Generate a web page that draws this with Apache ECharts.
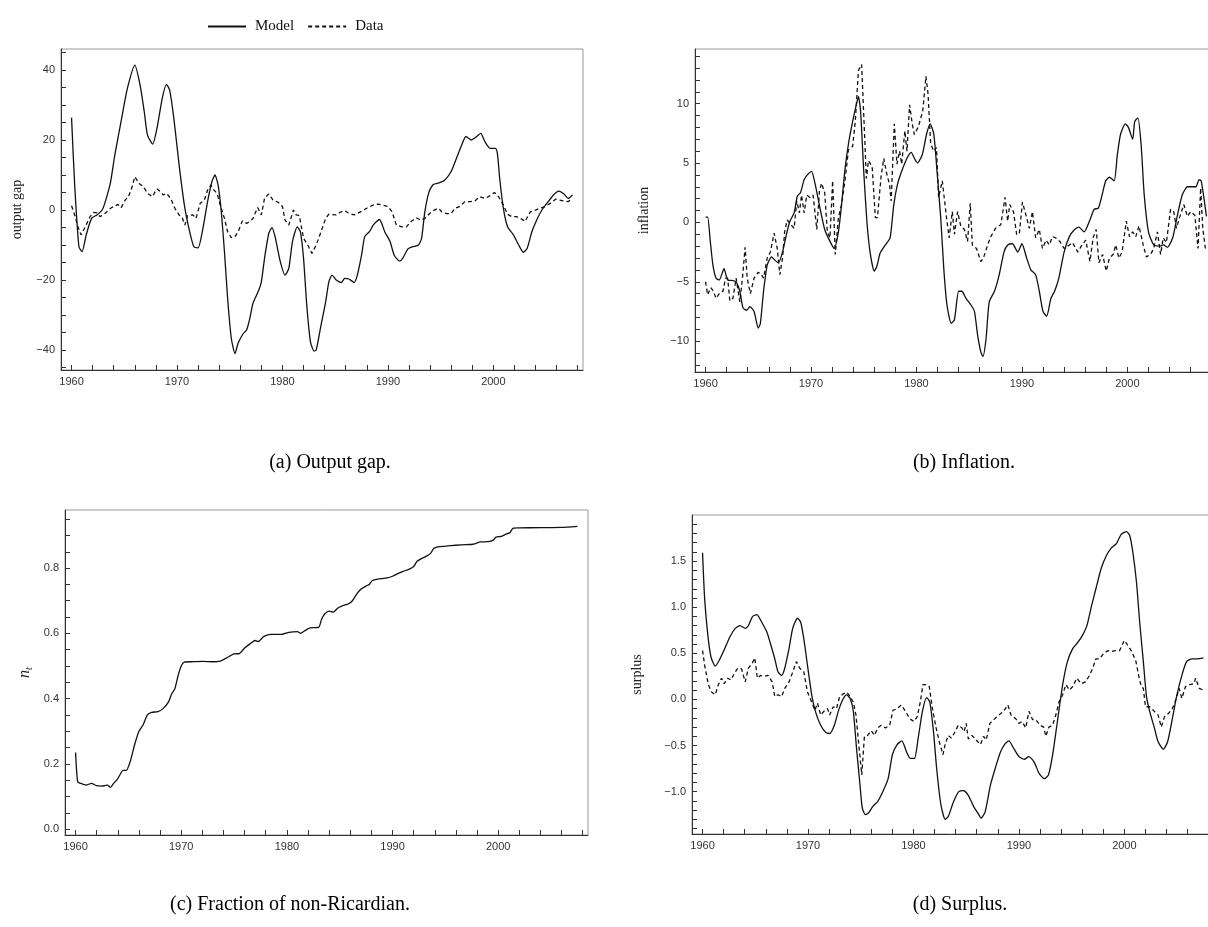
<!DOCTYPE html>
<html><head><meta charset="utf-8">
<script src="https://cdn.jsdelivr.net/npm/echarts@6/dist/echarts.min.js"></script>
<style>html,body{margin:0;padding:0;background:#fff}#c{width:1208px;height:927px}</style>
</head><body><div id="c"></div>
<script>
// ---------- tick arrays ----------
const xLabels = [1960, 1970, 1980, 1990, 2000];
const xTicks = [1960,1962,1964,1966,1968,1970,1972,1974,1976,1978,1980,1982,1984,1986,1988,1990,1992,1994,1996,1998,2000,2002,2004,2006,2008];
const gapLabels = [-40, -20, 0, 20, 40];
const gapTicks = [-45,-40,-35,-30,-25,-20,-15,-10,-5,0,5,10,15,20,25,30,35,40,45];
const infLabels = [-10, -5, 0, 5, 10];
const infTicks = [-12,-11,-10,-9,-8,-7,-6,-5,-4,-3,-2,-1,0,1,2,3,4,5,6,7,8,9,10,11,12,13,14];
const ntLabels = [0, 0.2, 0.4, 0.6, 0.8];
const ntTicks = [0,0.05,0.1,0.15,0.2,0.25,0.3,0.35,0.4,0.45,0.5,0.55,0.6,0.65,0.7,0.75,0.8,0.85,0.9,0.95];
const surLabels = [-1.0, -0.5, 0.0, 0.5, 1.0, 1.5];
const surTicks = [-1.4,-1.3,-1.2,-1.1,-1.0,-0.9,-0.8,-0.7,-0.6,-0.5,-0.4,-0.3,-0.2,-0.1,0,0.1,0.2,0.3,0.4,0.5,0.6,0.7,0.8,0.9,1.0,1.1,1.2,1.3,1.4,1.5,1.6,1.7,1.8,1.9];

// ---------- (a) output gap ----------
const gapModel = [[1960.0,26.4],[1960.3,7],[1960.7,-10.5],[1961.0,-11.9],[1961.4,-7],[1961.9,-2.4],[1962.4,-1.4],[1962.9,0],[1963.2,2.4],[1963.7,8],[1964.1,15.7],[1964.8,27],[1965.3,34.8],[1966.0,41.4],[1966.5,35.7],[1966.9,28],[1967.2,21.4],[1967.7,18.8],[1968.1,23.3],[1968.6,31.9],[1969.0,35.9],[1969.3,34.3],[1969.7,26.2],[1970.2,12.9],[1970.7,1.4],[1971.2,-6.2],[1971.6,-10.5],[1972.0,-10.8],[1972.4,-6.2],[1972.9,2.4],[1973.3,8],[1973.6,10],[1973.9,7.1],[1974.2,-0.5],[1974.5,-11.9],[1974.8,-25.2],[1975.15,-36.7],[1975.5,-41],[1975.8,-38],[1976.3,-35.2],[1976.6,-34.3],[1976.9,-31],[1977.2,-26.7],[1977.7,-23.3],[1978.0,-20.5],[1978.3,-13.8],[1978.7,-6.7],[1979.0,-5],[1979.3,-7.6],[1979.8,-14.8],[1980.25,-18.6],[1980.6,-16.7],[1980.95,-9],[1981.4,-4.8],[1981.7,-6.2],[1982.0,-13.8],[1982.3,-27],[1982.65,-37.6],[1983.0,-40.3],[1983.2,-40],[1983.6,-33.8],[1984.1,-26.2],[1984.4,-20.5],[1984.7,-18.6],[1985.1,-20],[1985.6,-20.7],[1985.9,-19.5],[1986.3,-19.7],[1986.8,-20.7],[1987.1,-18.6],[1987.5,-12.9],[1987.8,-7.6],[1988.25,-6.2],[1988.6,-4.3],[1989.2,-2.7],[1989.7,-6.2],[1990.2,-9],[1990.6,-12.9],[1991.1,-14.6],[1991.4,-13.8],[1991.9,-11.1],[1992.3,-10.5],[1992.9,-10],[1993.2,-8],[1993.5,-0.5],[1993.9,5.2],[1994.3,7.3],[1994.9,7.8],[1995.4,8.6],[1996.0,11],[1996.5,14.8],[1997.0,18.6],[1997.4,21],[1997.9,20],[1998.3,20.7],[1998.8,21.9],[1999.2,19.5],[1999.7,17.6],[2000.2,17.6],[2000.4,15.7],[2000.6,9],[2000.95,0.5],[2001.35,-4.8],[2001.9,-7.1],[2002.4,-10],[2002.85,-12.1],[2003.2,-11],[2003.65,-6.2],[2004.1,-2.9],[2004.6,0],[2005.2,2.4],[2005.7,4.3],[2006.2,5.4],[2006.7,4.6],[2007.1,3.3],[2007.5,4.3]];
const gapData = [[1960.0,1.2],[1960.3,-1.4],[1960.6,-4.8],[1960.9,-7.1],[1961.3,-4.8],[1961.75,-1.9],[1962.1,-0.7],[1962.4,-0.8],[1962.7,-1.9],[1963.0,-1.4],[1963.35,-0.5],[1963.7,0.5],[1964.0,1],[1964.4,1.6],[1964.7,0.7],[1965.1,2.9],[1965.4,3.8],[1965.75,6.7],[1966.0,9.5],[1966.4,7.6],[1966.8,6.7],[1967.2,4.8],[1967.65,3.8],[1968.1,6],[1968.45,5.2],[1968.7,4.3],[1969.0,4.8],[1969.4,3.3],[1969.8,0.5],[1970.2,-1.4],[1970.5,-2.2],[1970.75,-4.3],[1971.0,-1.6],[1971.5,-1.4],[1971.8,-2.4],[1972.2,1.9],[1972.6,2.9],[1972.9,5.7],[1973.2,7.1],[1973.5,5.7],[1973.8,4.8],[1974.1,1.4],[1974.5,-2.4],[1974.8,-6.2],[1975.15,-7.9],[1975.5,-7.6],[1975.8,-6.2],[1976.2,-3.1],[1976.6,-3.8],[1976.9,-3.3],[1977.2,-2.4],[1977.65,0.7],[1978.0,-1.4],[1978.3,3.3],[1978.7,4.6],[1979.1,2.9],[1979.6,2.2],[1980.0,1],[1980.25,-2.9],[1980.6,-4.3],[1981.05,0],[1981.3,-1.4],[1981.6,-1.6],[1982.0,-8.1],[1982.4,-10],[1982.8,-12.4],[1983.2,-10],[1983.6,-6.7],[1984.1,-2.4],[1984.4,-1.2],[1985.1,-1.4],[1985.55,-0.5],[1985.9,-0.2],[1986.35,-1],[1986.8,-1.4],[1987.2,-0.8],[1987.6,-0.2],[1988.1,0.7],[1988.6,1.4],[1989.05,1.7],[1989.5,1.4],[1990.0,1],[1990.4,-0.5],[1990.8,-4.3],[1991.3,-4.8],[1991.75,-4.8],[1992.2,-3.3],[1992.7,-2.2],[1993.1,-2.9],[1993.5,-2.4],[1993.95,-1],[1994.4,0],[1994.8,0.5],[1995.1,-0.5],[1995.55,-1],[1996.0,-1],[1996.35,0.5],[1996.8,1],[1997.3,2.4],[1997.8,2.4],[1998.25,2.6],[1998.7,3.8],[1999.2,3.3],[1999.7,4.1],[2000.1,5],[2000.5,3.8],[2000.95,1.4],[2001.35,-1.2],[2001.75,-1.9],[2002.2,-1.9],[2002.7,-2.6],[2003.0,-3.3],[2003.5,-0.5],[2004.0,0],[2004.4,0.5],[2004.9,1],[2005.4,1.9],[2005.9,3.1],[2006.2,2.9],[2006.7,2.6],[2007.1,2.4],[2007.5,3.3]];

// ---------- (b) inflation ----------
const infModel = [[1960.0,0.45],[1960.2,0.45],[1960.45,-1.6],[1960.7,-3.6],[1961.0,-4.7],[1961.3,-4.85],[1961.75,-3.9],[1962.1,-4.85],[1962.6,-4.9],[1962.9,-5.0],[1963.25,-5.8],[1963.55,-7.2],[1963.9,-7.4],[1964.2,-7.1],[1964.6,-7.5],[1965.0,-8.9],[1965.2,-8.5],[1965.5,-5.8],[1965.85,-3.6],[1966.25,-2.9],[1966.6,-3.2],[1966.9,-3.4],[1967.3,-2.5],[1967.7,-0.9],[1968.0,0.1],[1968.4,0.8],[1968.7,2.2],[1969.0,2.5],[1969.35,3.6],[1969.65,4.0],[1970.05,4.3],[1970.4,3.2],[1970.85,1.2],[1971.3,-0.6],[1971.8,-1.6],[1972.2,-2.2],[1972.6,-0.8],[1972.9,1.5],[1973.2,4.3],[1973.55,6.6],[1973.95,8.5],[1974.35,10.1],[1974.5,10.6],[1974.7,9.4],[1975.0,4.3],[1975.3,0.1],[1975.6,-2.5],[1976.0,-4.1],[1976.25,-3.7],[1976.55,-2.6],[1977.05,-1.9],[1977.5,-1.3],[1977.85,1.5],[1978.2,3.2],[1978.6,4.3],[1979.1,5.4],[1979.5,5.9],[1979.8,5.4],[1980.1,5.0],[1980.55,5.7],[1980.95,7.4],[1981.3,8.3],[1981.65,7.4],[1981.95,4.3],[1982.3,0.4],[1982.6,-4.0],[1982.9,-7.0],[1983.3,-8.5],[1983.6,-8.2],[1984.0,-5.8],[1984.3,-5.8],[1984.7,-6.4],[1985.2,-7.0],[1985.5,-7.5],[1985.8,-9.5],[1986.1,-10.9],[1986.3,-11.3],[1986.6,-9.8],[1986.9,-6.7],[1987.4,-5.8],[1987.85,-4.4],[1988.3,-2.5],[1988.65,-1.9],[1989.1,-1.8],[1989.6,-2.5],[1990.0,-1.8],[1990.45,-3.0],[1990.85,-4.0],[1991.3,-4.4],[1991.65,-5.8],[1992.0,-7.5],[1992.35,-7.9],[1992.75,-6.4],[1993.1,-5.8],[1993.5,-4.7],[1994.0,-2.5],[1994.5,-1.2],[1995.0,-0.6],[1995.4,-0.4],[1995.9,-0.8],[1996.4,0.1],[1996.85,1.1],[1997.25,1.2],[1997.6,2.3],[1997.95,3.5],[1998.3,3.8],[1998.75,3.5],[1999.05,5.7],[1999.35,7.4],[1999.8,8.3],[2000.1,8.0],[2000.5,7.0],[2000.7,8.5],[2001.0,8.8],[2001.3,6.6],[2001.6,2.3],[2002.0,-0.8],[2002.5,-1.9],[2003.0,-2.0],[2003.4,-1.9],[2003.8,-2.1],[2004.3,-1.3],[2004.7,0.4],[2005.2,2.3],[2005.7,3.0],[2006.15,3.0],[2006.5,3.0],[2006.8,3.6],[2007.0,3.5],[2007.3,1.8],[2007.5,0.5]];
const infData = [[1960.0,-5.0],[1960.2,-6.1],[1960.5,-5.5],[1960.75,-5.8],[1961.0,-6.4],[1961.3,-6.0],[1961.65,-5.8],[1961.9,-4.7],[1962.1,-4.7],[1962.3,-6.6],[1962.6,-6.4],[1962.9,-4.7],[1963.25,-6.7],[1963.5,-4.7],[1963.75,-2.1],[1963.95,-4.7],[1964.25,-6.0],[1964.6,-4.7],[1965.0,-4.2],[1965.3,-4.4],[1965.5,-4.7],[1965.85,-3.0],[1966.15,-2.5],[1966.5,-0.9],[1966.8,-2.2],[1967.05,-4.4],[1967.3,-3.0],[1967.5,-0.8],[1967.75,0.2],[1968.0,-0.1],[1968.4,-0.5],[1968.65,1.8],[1968.9,0.8],[1969.1,2.3],[1969.35,0.8],[1969.6,2.3],[1969.9,2.1],[1970.2,2.3],[1970.55,-0.6],[1970.8,2.6],[1971.0,3.3],[1971.3,2.5],[1971.55,-0.8],[1971.8,-1.3],[1972.05,3.5],[1972.3,-2.7],[1972.6,0.4],[1972.9,1.5],[1973.25,3.7],[1973.55,6.1],[1973.95,6.4],[1974.2,8.5],[1974.5,12.8],[1974.8,13.3],[1975.05,8.0],[1975.25,3.7],[1975.45,5.2],[1975.8,4.7],[1976.1,0.4],[1976.3,0.4],[1976.65,3.9],[1976.9,5.4],[1977.15,4.2],[1977.45,3.2],[1977.6,1.8],[1977.9,8.3],[1978.15,4.9],[1978.4,6.0],[1978.6,4.9],[1978.9,7.7],[1979.1,6.0],[1979.35,9.9],[1979.6,8.3],[1979.8,7.4],[1980.2,8.1],[1980.6,9.4],[1980.9,12.3],[1981.1,10.8],[1981.35,6.6],[1981.65,6.0],[1981.9,6.3],[1982.1,2.1],[1982.45,3.5],[1982.85,0.4],[1983.1,-1.3],[1983.4,0.9],[1983.6,-1.0],[1983.9,0.9],[1984.2,-0.3],[1984.55,-0.6],[1984.85,-1.6],[1985.1,1.6],[1985.3,-1.9],[1985.7,-2.2],[1986.1,-3.3],[1986.35,-3.0],[1986.75,-1.9],[1987.05,-1.2],[1987.5,-0.5],[1988.0,-0.2],[1988.4,2.1],[1988.65,0.1],[1988.85,1.5],[1989.2,0.9],[1989.5,-1.0],[1989.75,-1.0],[1990.05,1.7],[1990.45,0.4],[1990.7,-0.5],[1991.0,0.9],[1991.3,-1.3],[1991.65,-0.6],[1991.95,-2.2],[1992.3,-1.5],[1992.6,-1.9],[1992.9,-1.2],[1993.2,-1.3],[1993.6,-1.6],[1994.0,-2.2],[1994.5,-1.9],[1994.8,-1.7],[1995.3,-2.5],[1995.7,-1.9],[1996.05,-1.5],[1996.45,-3.3],[1996.75,-1.3],[1997.05,-0.6],[1997.3,-3.4],[1997.65,-2.7],[1998.0,-4.1],[1998.3,-3.0],[1998.65,-2.7],[1998.9,-1.9],[1999.2,-3.0],[1999.5,-2.5],[1999.9,0.1],[2000.2,-1.2],[2000.5,-0.8],[2000.8,-1.2],[2001.1,-0.3],[2001.5,-1.9],[2001.8,-2.9],[2002.2,-2.7],[2002.5,-2.2],[2002.85,-0.8],[2003.15,-2.7],[2003.4,-1.3],[2003.7,-1.7],[2004.1,1.1],[2004.4,0.9],[2004.65,-0.5],[2004.95,0.4],[2005.35,1.5],[2005.7,0.5],[2006.0,0.9],[2006.4,0.6],[2006.7,-2.2],[2006.95,2.9],[2007.15,-0.5],[2007.4,-2.2]];

// ---------- (c) fraction of non-Ricardian ----------
const ntModel = [[1960.0,0.235],[1960.2,0.145],[1960.5,0.14],[1961.0,0.135],[1961.5,0.14],[1962.0,0.133],[1962.5,0.132],[1963.0,0.135],[1963.3,0.128],[1963.6,0.14],[1964.0,0.155],[1964.5,0.18],[1964.8,0.18],[1965.2,0.21],[1965.6,0.26],[1966.0,0.30],[1966.4,0.32],[1966.8,0.35],[1967.2,0.358],[1967.8,0.36],[1968.3,0.37],[1968.8,0.39],[1969.1,0.415],[1969.4,0.43],[1969.7,0.47],[1970.0,0.50],[1970.3,0.512],[1971.0,0.513],[1972.0,0.514],[1973.0,0.513],[1973.7,0.515],[1974.3,0.525],[1975.0,0.537],[1975.5,0.538],[1976.0,0.555],[1976.6,0.57],[1977.0,0.578],[1977.3,0.575],[1977.8,0.59],[1978.5,0.597],[1979.5,0.597],[1980.2,0.603],[1981.0,0.605],[1981.3,0.60],[1981.8,0.61],[1982.2,0.617],[1983.0,0.618],[1983.3,0.645],[1983.6,0.66],[1984.0,0.668],[1984.4,0.665],[1984.8,0.677],[1985.3,0.685],[1985.8,0.69],[1986.2,0.70],[1986.6,0.72],[1987.0,0.735],[1987.5,0.745],[1987.8,0.75],[1988.1,0.762],[1988.6,0.766],[1989.5,0.77],[1990.0,0.775],[1990.5,0.783],[1991.0,0.79],[1991.6,0.797],[1992.0,0.805],[1992.3,0.82],[1992.8,0.83],[1993.3,0.838],[1993.6,0.845],[1993.9,0.86],[1994.3,0.865],[1995.0,0.867],[1996.0,0.87],[1997.0,0.872],[1997.6,0.873],[1998.0,0.877],[1998.3,0.88],[1999.0,0.881],[1999.5,0.885],[1999.8,0.895],[2000.3,0.897],[2000.8,0.905],[2001.1,0.908],[2001.4,0.922],[2002.0,0.923],[2004.0,0.924],[2006.0,0.925],[2007.5,0.928]];

// ---------- (d) surplus ----------
const surModel = [[1960.0,1.59],[1960.2,1.09],[1960.5,0.70],[1960.8,0.46],[1961.2,0.36],[1961.65,0.44],[1962.1,0.55],[1962.6,0.68],[1963.1,0.77],[1963.55,0.80],[1964.05,0.77],[1964.35,0.80],[1964.75,0.90],[1965.15,0.92],[1965.6,0.84],[1966.1,0.73],[1966.4,0.62],[1966.85,0.44],[1967.15,0.30],[1967.5,0.26],[1967.8,0.34],[1968.2,0.55],[1968.55,0.77],[1969.0,0.88],[1969.3,0.84],[1969.6,0.66],[1969.95,0.37],[1970.35,0.05],[1970.7,-0.13],[1971.2,-0.28],[1971.7,-0.36],[1972.05,-0.37],[1972.5,-0.28],[1972.95,-0.10],[1973.35,0.01],[1973.65,0.05],[1974.0,0.01],[1974.3,-0.13],[1974.6,-0.53],[1974.9,-0.89],[1975.15,-1.18],[1975.45,-1.25],[1975.75,-1.23],[1976.15,-1.16],[1976.6,-1.11],[1977.1,-1.0],[1977.6,-0.86],[1978.0,-0.60],[1978.45,-0.49],[1978.9,-0.45],[1979.35,-0.57],[1979.7,-0.64],[1980.1,-0.64],[1980.45,-0.42],[1980.85,-0.13],[1981.25,0.02],[1981.55,-0.03],[1981.9,-0.35],[1982.2,-0.75],[1982.6,-1.14],[1983.0,-1.30],[1983.3,-1.27],[1983.8,-1.11],[1984.3,-1.0],[1984.75,-0.99],[1985.2,-1.04],[1985.7,-1.16],[1986.2,-1.25],[1986.4,-1.29],[1986.8,-1.22],[1987.3,-0.93],[1987.75,-0.75],[1988.25,-0.57],[1988.7,-0.48],[1989.05,-0.45],[1989.5,-0.53],[1990.0,-0.62],[1990.5,-0.65],[1990.95,-0.62],[1991.45,-0.68],[1991.9,-0.80],[1992.4,-0.86],[1992.8,-0.82],[1993.2,-0.60],[1993.65,-0.24],[1994.15,0.16],[1994.6,0.41],[1995.1,0.55],[1995.6,0.62],[1996.05,0.70],[1996.45,0.80],[1996.9,1.02],[1997.3,1.20],[1997.8,1.42],[1998.3,1.56],[1998.75,1.64],[1999.25,1.69],[1999.7,1.79],[2000.2,1.82],[2000.5,1.78],[2000.8,1.60],[2001.15,1.27],[2001.45,0.84],[2001.8,0.41],[2002.1,0.03],[2002.4,-0.13],[2002.85,-0.31],[2003.2,-0.46],[2003.7,-0.54],[2004.1,-0.46],[2004.5,-0.24],[2004.95,0.03],[2005.45,0.26],[2005.9,0.41],[2006.4,0.44],[2006.9,0.44],[2007.5,0.45]];
const surData = [[1960.0,0.53],[1960.2,0.37],[1960.55,0.16],[1960.85,0.08],[1961.2,0.05],[1961.5,0.16],[1961.8,0.23],[1962.05,0.17],[1962.4,0.23],[1962.7,0.21],[1963.0,0.28],[1963.35,0.34],[1963.7,0.33],[1964.05,0.19],[1964.35,0.34],[1964.7,0.39],[1964.95,0.45],[1965.2,0.23],[1965.5,0.26],[1965.8,0.25],[1966.2,0.26],[1966.6,0.19],[1966.85,0.03],[1967.15,0.05],[1967.5,0.03],[1967.8,0.12],[1968.2,0.19],[1968.5,0.28],[1968.9,0.41],[1969.2,0.34],[1969.6,0.30],[1969.95,0.08],[1970.35,-0.03],[1970.65,-0.12],[1970.9,-0.04],[1971.2,-0.17],[1971.5,-0.13],[1971.85,-0.10],[1972.05,-0.17],[1972.4,-0.08],[1972.7,-0.10],[1973.0,0.03],[1973.35,0.06],[1973.65,0.08],[1974.0,0.03],[1974.3,-0.03],[1974.55,-0.17],[1974.85,-0.53],[1975.1,-0.82],[1975.35,-0.40],[1975.65,-0.39],[1976.0,-0.34],[1976.3,-0.39],[1976.6,-0.31],[1976.95,-0.28],[1977.35,-0.31],[1977.75,-0.28],[1978.05,-0.12],[1978.45,-0.10],[1978.85,-0.06],[1979.25,-0.13],[1979.65,-0.21],[1980.05,-0.24],[1980.35,-0.19],[1980.65,-0.03],[1980.9,0.16],[1981.25,0.16],[1981.5,0.14],[1981.8,-0.10],[1982.15,-0.31],[1982.45,-0.46],[1982.8,-0.60],[1983.0,-0.49],[1983.3,-0.39],[1983.6,-0.42],[1983.95,-0.35],[1984.25,-0.28],[1984.6,-0.31],[1984.8,-0.35],[1985.0,-0.26],[1985.2,-0.43],[1985.55,-0.39],[1985.95,-0.44],[1986.35,-0.49],[1986.65,-0.40],[1986.9,-0.44],[1987.25,-0.26],[1987.6,-0.22],[1988.1,-0.17],[1988.55,-0.13],[1988.95,-0.06],[1989.25,-0.17],[1989.7,-0.21],[1990.0,-0.26],[1990.3,-0.24],[1990.65,-0.31],[1990.95,-0.13],[1991.3,-0.22],[1991.6,-0.22],[1992.0,-0.28],[1992.35,-0.30],[1992.55,-0.40],[1992.85,-0.30],[1993.2,-0.28],[1993.5,-0.17],[1993.8,-0.03],[1994.15,0.05],[1994.45,0.16],[1994.8,0.10],[1995.1,0.14],[1995.5,0.23],[1995.9,0.17],[1996.3,0.19],[1996.7,0.26],[1997.0,0.34],[1997.3,0.44],[1997.65,0.44],[1998.05,0.50],[1998.45,0.53],[1998.75,0.52],[1999.15,0.53],[1999.55,0.53],[2000.0,0.64],[2000.3,0.59],[2000.7,0.52],[2001.1,0.41],[2001.35,0.26],[2001.6,0.14],[2001.8,0.12],[2002.0,-0.08],[2002.4,-0.08],[2002.85,-0.13],[2003.2,-0.17],[2003.5,-0.30],[2003.8,-0.19],[2004.2,-0.15],[2004.55,-0.10],[2004.8,-0.03],[2005.2,0.12],[2005.45,0.01],[2005.8,0.14],[2006.2,0.16],[2006.6,0.17],[2006.75,0.23],[2007.1,0.12],[2007.5,0.10]];

// ---------- chart ----------
const INK = '#111';
const tickFont = {fontFamily: '"Liberation Sans", Arial, sans-serif', fontSize: 11, color: '#333'};
const nameFont = {fontFamily: '"Liberation Serif", "Times New Roman", serif', fontSize: 14, color: '#222'};
const minus = s => String(s).replace('-', '\u2212');

const grids = [
  {left: 61, top: 49, width: 522, height: 321},
  {left: 695, top: 49, width: 522, height: 323},
  {left: 65, top: 510, width: 523, height: 325},
  {left: 692, top: 515, width: 522, height: 319}
];

function xAxis(i) {
  return {
    type: 'value', gridIndex: i, min: 1959, max: 2008.5,
    axisLine: {show: true, onZero: false, lineStyle: {color: '#333', width: 1}},
    axisTick: {show: true, inside: true, length: 5, lineStyle: {color: '#333'}, customValues: xTicks},
    axisLabel: {show: true, customValues: xLabels, margin: 6, formatter: v => String(v), ...tickFont},
    splitLine: {show: false}
  };
}
function yAxis(i, min, max, ticks, labels, name, gap, fmt, nameStyle) {
  return {
    type: 'value', gridIndex: i, min, max,
    name, nameLocation: 'middle', nameGap: gap, nameRotate: 90,
    nameTextStyle: nameStyle || nameFont,
    axisLine: {show: true, onZero: false, lineStyle: {color: '#333', width: 1}},
    axisTick: {show: true, inside: true, length: 5, lineStyle: {color: '#333'}, customValues: ticks},
    axisLabel: {show: true, customValues: labels, margin: 6, formatter: v => minus(fmt(v)), ...tickFont},
    splitLine: {show: false}
  };
}
function line(name, data, gi, dashed) {
  return {
    type: 'line', name, data, xAxisIndex: gi, yAxisIndex: gi,
    symbol: 'none', showSymbol: false, smooth: dashed ? false : 0.2,
    lineStyle: {color: INK, width: 1.3, type: dashed ? [4, 3] : 'solid'},
    itemStyle: {color: INK},
    animation: false, silent: true, z: dashed ? 3 : 4
  };
}

const capFont = '20px "Liberation Serif", "Times New Roman", serif';
function caption(text, x, y) {
  return {type: 'text', x, y, silent: true,
    style: {text, font: capFont, fill: '#000', align: 'center', verticalAlign: 'middle'}};
}

const chart = echarts.init(document.getElementById('c'), null, {renderer: 'canvas'});
chart.setOption({
  animation: false,
  backgroundColor: '#fff',
  grid: grids.map(g => ({...g, show: true, borderColor: '#999', borderWidth: 1, backgroundColor: 'transparent', containLabel: false, outerBoundsMode: 'none'})),
  xAxis: [0, 1, 2, 3].map(xAxis),
  yAxis: [
    yAxis(0, -45.7, 46, gapTicks, gapLabels, 'output gap', 37, v => String(v)),
    yAxis(1, -12.6, 14.6, infTicks, infLabels, 'inflation', 44, v => String(v)),
    yAxis(2, -0.018, 0.978, ntTicks, ntLabels, '{n|n}{t|t}', 31, v => v.toFixed(1), {
      rich: {
        n: {fontFamily: '"Liberation Serif", serif', fontStyle: 'italic', fontSize: 16, color: '#222'},
        t: {fontFamily: '"Liberation Serif", serif', fontStyle: 'italic', fontSize: 10, color: '#222', verticalAlign: 'bottom', padding: [8, 0, 0, 0]}
      }
    }),
    yAxis(3, -1.46, 2.0, surTicks, surLabels, 'surplus', 48, v => v.toFixed(1))
  ],
  legend: {
    show: true, top: 14, left: 202, itemWidth: 38, itemHeight: 10, itemGap: 13,
    data: ['Model', 'Data'],
    itemStyle: {opacity: 0},
    textStyle: {fontFamily: '"Liberation Serif", "Times New Roman", serif', fontSize: 15, color: '#111', padding: [0, 0, 0, 4]},
    selectedMode: false
  },
  series: [
    line('Model', gapModel, 0, false), line('Data', gapData, 0, true),
    line('Model', infModel, 1, false), line('Data', infData, 1, true),
    line('Model', ntModel, 2, false),
    line('Model', surModel, 3, false), line('Data', surData, 3, true)
  ],
  graphic: [
    caption('(a) Output gap.', 330, 463),
    caption('(b) Inflation.', 964, 463),
    caption('(c) Fraction of non-Ricardian.', 290, 905),
    caption('(d) Surplus.', 960, 905)
  ]
});
</script></body></html>
